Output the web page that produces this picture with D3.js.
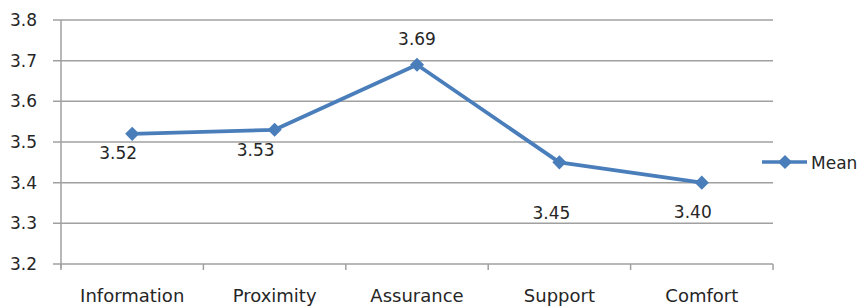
<!DOCTYPE html>
<html><head><meta charset="utf-8">
<script src="https://cdn.jsdelivr.net/npm/d3@7"></script>
<style>body{margin:0;background:#fff}svg{display:block}text{font-family:"DejaVu Sans",Verdana,sans-serif;fill:#262626}</style>
</head><body><svg id="c" width="862" height="306"></svg>
<script>
const categories = ["Information","Proximity","Assurance","Support","Comfort"];
const meanValues = [3.52,3.53,3.69,3.45,3.40];
const yTicks = [3.2,3.3,3.4,3.5,3.6,3.7,3.8];
const seriesName = "Mean";
const labelOffsets = [[-14,25],[-19,26],[0,-20],[-8,57],[-9,35]];

const svg = d3.select("#c");
const m = {l:61, r:773, t:20, b:264};
const x = d3.scaleBand().domain(categories).range([m.l,m.r]);
const y = d3.scaleLinear().domain([3.2,3.8]).range([m.b,m.t]);
const color = "#4a7ebb";

svg.append("g").selectAll("line").data(yTicks).join("line")
  .attr("x1",m.l-8).attr("x2",m.r).attr("y1",d=>y(d)).attr("y2",d=>y(d))
  .attr("stroke","#a0a0a0").attr("stroke-width",1.5);
svg.append("line").attr("x1",m.l).attr("x2",m.l).attr("y1",m.t).attr("y2",m.b+4)
  .attr("stroke","#a0a0a0").attr("stroke-width",1.5);
const bounds = categories.map(c=>x(c)).concat([m.r]);
svg.append("g").selectAll("line").data(bounds).join("line")
  .attr("x1",d=>d).attr("x2",d=>d).attr("y1",m.b).attr("y2",m.b+6)
  .attr("stroke","#a0a0a0").attr("stroke-width",1.5);
svg.append("g").selectAll("text").data(yTicks).join("text")
  .attr("x",37).attr("y",d=>y(d)+6).attr("text-anchor","end")
  .style("font-size","17px").text(d=>d.toFixed(1));
svg.append("g").selectAll("text").data(categories).join("text")
  .attr("x",d=>x(d)+x.bandwidth()/2).attr("y",302).attr("text-anchor","middle")
  .style("font-size","18px").text(d=>d);

const cx = (d,i)=>x(categories[i])+x.bandwidth()/2;
const line = d3.line().x((d,i)=>cx(d,i)).y(d=>y(d));
svg.append("path").datum(meanValues).attr("d",line).attr("fill","none")
  .attr("stroke",color).attr("stroke-width",3.8).attr("stroke-linejoin","round");
const diamond = d3.symbol().type(d3.symbolSquare).size(100);
svg.append("g").selectAll("path").data(meanValues).join("path")
  .attr("d",diamond).attr("transform",(d,i)=>`translate(${cx(d,i)},${y(d)}) rotate(45)`).attr("fill",color);
svg.append("g").selectAll("text").data(meanValues).join("text")
  .attr("x",(d,i)=>cx(d,i)+labelOffsets[i][0]).attr("y",(d,i)=>y(d)+labelOffsets[i][1])
  .attr("text-anchor","middle").style("font-size","17px").text(d=>d.toFixed(2));

const lg = svg.append("g");
lg.append("line").attr("x1",762).attr("x2",807).attr("y1",162).attr("y2",162)
  .attr("stroke",color).attr("stroke-width",3.5);
lg.append("path").attr("d",diamond).attr("transform","translate(785,162) rotate(45)").attr("fill",color);
lg.append("text").attr("x",811).attr("y",169).style("font-size","17px").text(seriesName);
</script></body></html>
